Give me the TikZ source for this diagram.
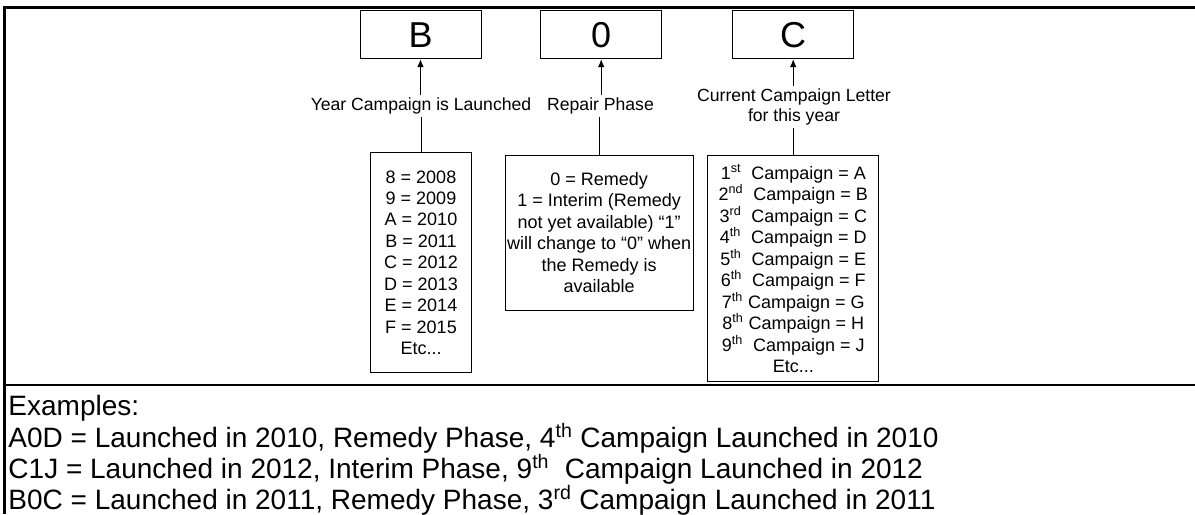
\documentclass[tikz,border=0pt]{standalone}
\usepackage{fontspec}
\setmainfont{Liberation Sans}
\usetikzlibrary{arrows.meta}

\tikzset{every picture/.style={line width=0.75pt}}
\tikzset{
  codebox/.style={draw, inner sep=0pt, minimum width=90.75pt, minimum height=36pt, font=\fontsize{27}{31}\selectfont},
  lbl/.style={inner sep=1.5pt, align=center, font=\fontsize{13.2}{15}\selectfont},
  infobox/.style={draw, inner xsep=0pt, inner ysep=2pt, align=center, font=\fontsize{13.5}{16.1}\selectfont},
  upto/.style={-{Latex[length=6pt,width=5pt]}}
}

\begin{document}
\begin{tikzpicture}[x=0.75pt,y=0.75pt,yscale=-1,xscale=1]
\useasboundingbox (0,0) rectangle (1195,514);

%Straight Lines [frame]
\draw [line width=1.8pt] (4.6,514) -- (4.6,7.3) -- (1195,7.3) ;
%Straight Lines [separator]
\draw [line width=1.8pt] (4.6,385) -- (1195,385) ;

% Code Boxes
\node [codebox] (boxyear) at (420.5,34.7) {B};
\node [codebox] (boxphase) at (601.2,34.7) {0};
\node [codebox] (boxletter) at (793.2,34.7) {C};

% Text Node
\node [lbl] (lblyear) at (421,106) {Year Campaign is Launched};
% Text Node
\node [lbl] (lblphase) at (600.5,106) {Repair Phase};
% Text Node
\node [lbl] (lblletter) at (794,107) {Current Campaign Letter\\for this year};

% Info Boxes
\node [infobox, minimum width=75.75pt, minimum height=165pt] (infoyear) at (421,262.7)
  {8 = 2008\\9 = 2009\\A = 2010\\B = 2011\\C = 2012\\D = 2013\\E = 2014\\F = 2015\\Etc...};
\node [infobox, minimum width=141pt, minimum height=116.25pt] (infophase) at (599.2,232.5)
  {0 = Remedy\\1 = Interim (Remedy\\not yet available) “1”\\will change to “0” when\\the Remedy is\\available};
\node [infobox, minimum width=128pt, minimum height=169.8pt] (infoletter) at (793.3,268.5)
  {1\textsuperscript{st}\ \ Campaign = A\\2\textsuperscript{nd}\ \ Campaign = B\\3\textsuperscript{rd}\ \ Campaign = C\\
   4\textsuperscript{th}\ \ Campaign = D\\5\textsuperscript{th}\ \ Campaign = E\\6\textsuperscript{th}\ \ Campaign = F\\
   7\textsuperscript{th} Campaign = G\\8\textsuperscript{th} Campaign = H\\9\textsuperscript{th}\ \ Campaign = J\\Etc...};

%Straight Lines [arrows up to the code]
\draw [upto] (lblyear.north -| boxyear.south) -- (boxyear.south) ;
\draw [upto] (lblphase.north -| boxphase.south) -- (boxphase.south) ;
\draw [upto] (lblletter.north -| boxletter.south) -- (boxletter.south) ;
%Straight Lines [info to label]
\draw (infoyear.north) -- (infoyear.north |- lblyear.south) ;
\draw (infophase.north) -- (infophase.north |- lblphase.south) ;
\draw (infoletter.north) -- (infoletter.north |- lblletter.south) ;

% Text Node
\node [anchor=north west, inner sep=0pt, align=left, font=\fontsize{21}{21.6}\selectfont] (examples) at (8,395)
  {Examples:\\
   A0D = Launched in 2010, Remedy Phase, 4\textsuperscript{th} Campaign Launched in 2010\\
   C1J = Launched in 2012, Interim Phase, 9\textsuperscript{th}\ \ Campaign Launched in 2012\\
   B0C = Launched in 2011, Remedy Phase, 3\textsuperscript{rd} Campaign Launched in 2011};

\end{tikzpicture}
\end{document}
